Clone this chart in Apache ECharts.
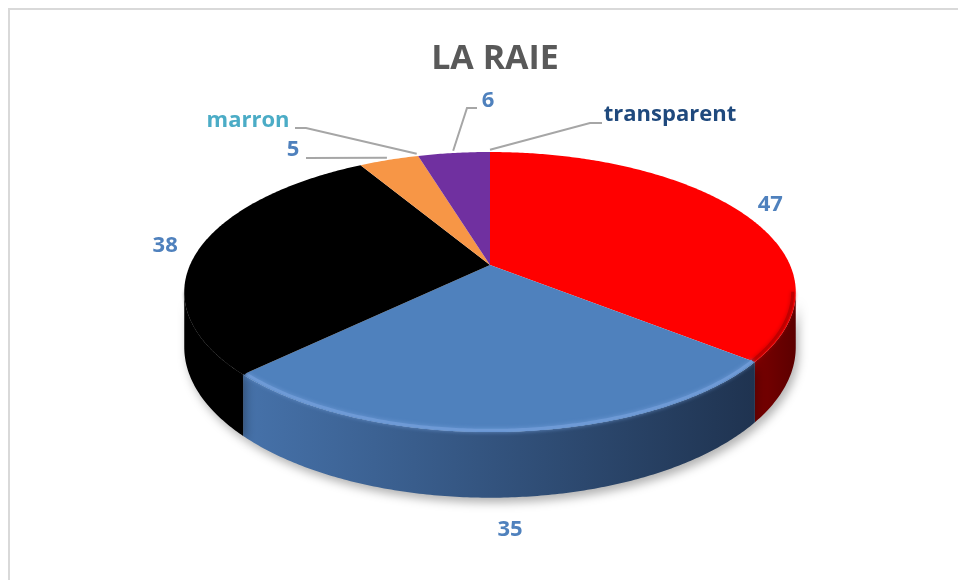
<!DOCTYPE html>
<html>
<head>
<meta charset="utf-8">
<title>LA RAIE</title>
<script src="https://cdn.jsdelivr.net/npm/echarts@6/dist/echarts.min.js"></script>
<style>
  html, body { margin: 0; padding: 0; background: #fff; }
  #main { width: 958px; height: 580px; }
</style>
</head>
<body>
<div id="main"></div>
<script>
// camembert 3D "LA RAIE" : faces + flancs dessinés avec des séries custom
const categories = ['rouge', 'bleu', 'noir', 'orange', 'marron', 'violet', 'transparent'];
const values = [47, 35, 38, 5, 0, 6, 0];

const topColors = ['#FF0000', '#4F81BD', '#000000', '#F79646', '#943634', '#7030A0', 'rgba(0,0,0,0)'];
const wallColors = [
  ['#7a0000', '#5c0000'],
  ['#4672aa', '#1f3350'],
  ['#000000', '#000000'],
  ['#b86a2c', '#9a5420'],
  ['#5a1f1e', '#5a1f1e'],
  ['#4a1f6b', '#3a1656'],
  ['rgba(0,0,0,0)', 'rgba(0,0,0,0)']
];
const rimColors = ['#c00000', '#6e9ad6', '#000000', '#f7b27a', '#943634', '#8a50b8', 'rgba(0,0,0,0)'];
const labelColors = { marron: '#4BACC6', transparent: '#1F497D' };
const valueLabelColor = '#4F81BD';

// étiquettes avec ligne de rappel (position du texte + coudes de la ligne)
const leaderLabels = {
  orange: { text: [293, 150], path: [[306, 158]] },
  marron: { text: [248, 121], path: [[295, 128], [306, 128]] },
  violet: { text: [488, 101], path: [[477, 108], [467, 108]] },
  transparent: { text: [670, 115], path: [[602, 123], [590, 123]] }
};

// géométrie de la vue
const CX = 490, CY = 265, RX = 300, RY = 134.8, P = 0.193, H = 53;

const total = values.reduce((a, b) => a + b, 0);
const starts = [];
let acc = 0;
values.forEach(v => { starts.push(acc / total * 2 * Math.PI); acc += v; });
const sweeps = values.map(v => v / total * 2 * Math.PI);

function proj(t, f, drop) {
  const s = 1 / (1 + P * Math.cos(t));
  return [CX + RX * f * Math.sin(t) * s, CY - RY * f * Math.cos(t) * s + (drop || 0) * s];
}

function arc(a0, a1, f, drop) {
  const n = Math.max(2, Math.ceil((a1 - a0) / 0.01) + 1);
  const pts = [];
  for (let k = 0; k < n; k++) {
    pts.push(proj(a0 + (a1 - a0) * k / (n - 1), f, drop));
  }
  return pts;
}

const lo = Math.acos(-P), hi = 2 * Math.PI - lo;

function renderWall(params, api) {
  const i = params.dataIndex;
  const a0 = Math.max(starts[i], lo), a1 = Math.min(starts[i] + sweeps[i], hi);
  if (values[i] <= 0 || a1 <= a0) return { type: 'group', children: [] };
  const pts = arc(a0, a1, 1, 0).concat(arc(a0, a1, 1, H).reverse());
  return {
    type: 'polygon',
    shape: { points: pts },
    style: {
      fill: new echarts.graphic.LinearGradient(0, 0, 1, 0, [
        { offset: 0, color: wallColors[i][0] },
        { offset: 1, color: wallColors[i][1] }
      ]),
      shadowBlur: 10,
      shadowOffsetX: 3,
      shadowOffsetY: 5,
      shadowColor: 'rgba(0,0,0,0.3)'
    }
  };
}

function renderTop(params, api) {
  const i = params.dataIndex;
  const name = categories[i];
  const a0 = starts[i], a1 = starts[i] + sweeps[i];
  const children = [];
  if (values[i] > 0) {
    children.push({
      type: 'polygon',
      shape: { points: [[CX, CY]].concat(arc(a0, a1, 1, 0)) },
      style: { fill: topColors[i] }
    });
    const w0 = Math.max(a0, lo), w1 = Math.min(a1, hi);
    if (w1 > w0) {
      children.push({
        type: 'polyline',
        shape: { points: arc(w0, w1, 0.99, 0) },
        style: { stroke: rimColors[i], lineWidth: 3, fill: null, shadowBlur: 4, shadowColor: rimColors[i] }
      });
    }
  }

  const text = values[i] > 0 ? String(values[i]) : name;
  const color = labelColors[name] || valueLabelColor;
  const mid = a0 + (a1 - a0) / 2;
  let pos;
  const lead = leaderLabels[name];
  if (lead) {
    pos = lead.text;
    children.push({
      type: 'polyline',
      shape: { points: lead.path.concat([proj(mid, 1.02, 0)]) },
      style: { stroke: '#A6A6A6', lineWidth: 2, fill: null }
    });
  } else {
    pos = proj(mid, 1.12, 0);
    const c = Math.cos(mid);
    if (c < 0) pos[1] += (H / (1 + P * c) + 12) * (-c);
  }
  children.push({
    type: 'text',
    x: pos[0],
    y: pos[1],
    style: {
      text: text,
      fill: color,
      font: 'bold 22px "Open Sans"',
      align: 'center',
      verticalAlign: 'middle'
    }
  });
  return { type: 'group', children: children };
}

const chart = echarts.init(document.getElementById('main'));
const seriesData = values.map((v, i) => ({ name: categories[i], value: v }));

chart.setOption({
  animation: false,
  title: {
    text: 'LA RAIE',
    left: 490,
    textAlign: 'center',
    top: 37,
    textStyle: { fontFamily: 'Open Sans', fontSize: 34, fontWeight: 'bold', color: '#595959' }
  },
  graphic: [{
    type: 'rect',
    silent: true,
    z: -1,
    shape: { x: 9, y: 9, width: 990, height: 620 },
    style: { fill: 'none', stroke: '#D9D9D9', lineWidth: 2 }
  }],
  series: [
    { type: 'custom', coordinateSystem: 'none', z: 2, silent: true, renderItem: renderWall, data: seriesData },
    { type: 'custom', coordinateSystem: 'none', z: 3, silent: true, renderItem: renderTop, data: seriesData }
  ]
});
</script>
</body>
</html>
